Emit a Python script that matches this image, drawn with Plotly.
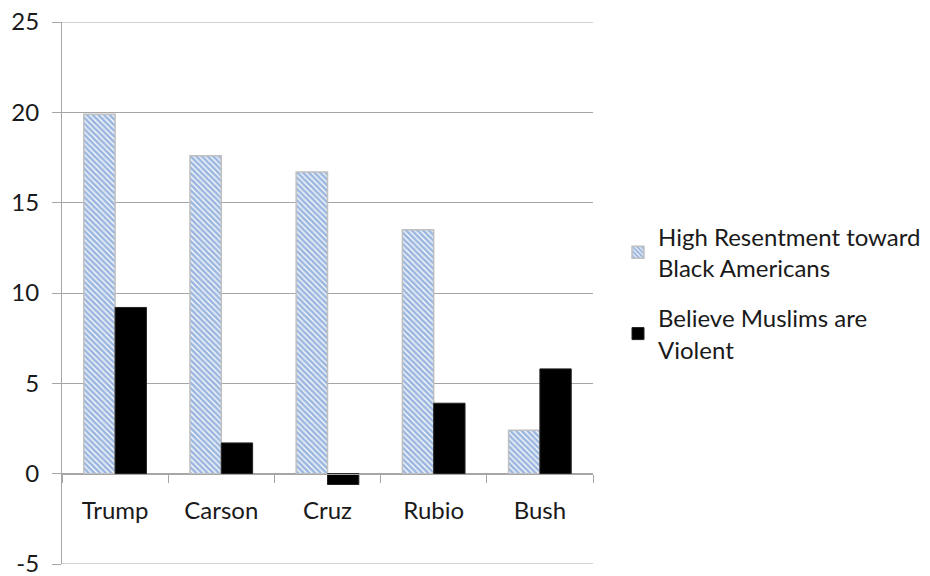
import plotly.graph_objects as go

candidates = ["Trump", "Carson", "Cruz", "Rubio", "Bush"]
resentment = [19.9, 17.6, 16.7, 13.5, 2.4]
muslims_violent = [9.2, 1.7, -0.6, 3.9, 5.8]

y_ticks = [-5, 0, 5, 10, 15, 20, 25]
y_tick_text = ["-5", "0", "5", "10", "15", "20", "25"]

font_family = "Lato, Carlito, Calibri, sans-serif"
text_color = "#1a1a1a"
grid_color = "#a6a6a6"

# plot area occupies the left part of the figure; legend sits to its right
inner_width = 930 - 62
plot_width_frac = 531 / inner_width

fig = go.Figure()
fig.add_trace(go.Bar(
    x=candidates,
    y=resentment,
    name="High Resentment toward<br>Black Americans",
    legendgroup="resentment",
    marker=dict(
        color="white",
        line=dict(color="#c0c0c0", width=1.5),
        pattern=dict(shape="\\", fgcolor="#3a6fbf", bgcolor="white",
                     size=4, solidity=0.7),
    ),
))
fig.add_trace(go.Bar(
    x=candidates,
    y=muslims_violent,
    name="Believe Muslims are<br>Violent",
    legendgroup="muslims",
    marker=dict(color="black", line=dict(color="#222", width=1)),
))

# gridlines along the top and bottom edges of the value range
for edge in (y_ticks[0], y_ticks[-1]):
    fig.add_shape(type="line", xref="x domain", yref="y", x0=0, x1=1,
                  y0=edge, y1=edge, line=dict(color=grid_color, width=1),
                  layer="below")

fig.update_layout(
    width=930,
    height=576,
    margin=dict(l=62, r=0, t=22, b=12),
    plot_bgcolor="white",
    paper_bgcolor="white",
    barmode="group",
    bargap=0.41,
    bargroupgap=0,
    font=dict(family=font_family, size=24, color=text_color),
    legend=dict(
        x=(618 - 62) / inner_width, xanchor="left",
        y=0.5, yanchor="middle",
        font=dict(size=24, color=text_color),
        traceorder="grouped",
        tracegroupgap=16,
        itemwidth=30,
        bgcolor="rgba(0,0,0,0)",
    ),
    showlegend=True,
)

fig.update_yaxes(
    range=[-5, 25],
    tickvals=y_ticks,
    ticktext=y_tick_text,
    automargin=False,
    ticklabeloverflow="allow",
    showgrid=True,
    gridcolor=grid_color,
    gridwidth=1,
    zeroline=True,
    zerolinecolor=grid_color,
    zerolinewidth=1,
    showline=True,
    linecolor=grid_color,
    linewidth=1,
    ticks="outside",
    ticklen=9,
    tickcolor=grid_color,
    tickfont=dict(size=24, color=text_color),
    ticklabelstandoff=8,
)

fig.update_xaxes(
    domain=[0, plot_width_frac],
    anchor="free",
    position=1 / 6,
    automargin=False,
    showline=True,
    linecolor=grid_color,
    linewidth=1,
    ticks="outside",
    tickson="boundaries",
    ticklen=8,
    tickcolor=grid_color,
    tickfont=dict(size=24, color=text_color),
    ticklabelstandoff=16,
    showgrid=False,
)

fig.write_html("out.html")
